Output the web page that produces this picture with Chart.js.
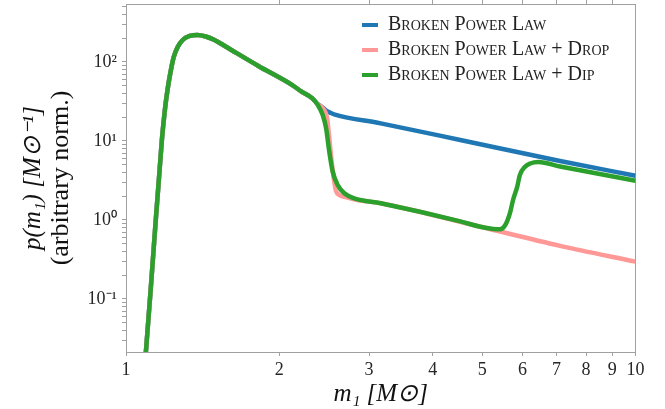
<!DOCTYPE html>
<html>
<head>
<meta charset="utf-8">
<script src="https://cdn.jsdelivr.net/npm/chart.js@4.4.1/dist/chart.umd.min.js"></script>
<style>
  html, body { margin: 0; padding: 0; background: #fff; }
</style>
</head>
<body>
<canvas id="myChart" width="665" height="409"></canvas>
<script>
// low-mass turn-on, shared by all three models
var massTurnOn = [1.084, 1.094, 1.119, 1.144, 1.160, 1.176, 1.192, 1.208, 1.225, 1.241, 1.263, 1.292, 1.334, 1.382, 1.433, 1.492, 1.568, 1.819, 2.120, 2.207, 2.319];
var densityTurnOn = [0.0100, 0.0213, 0.142, 1.00, 3.21, 10.3, 24.7, 46.9, 79.2, 115.7, 154.8, 189.8, 213.4, 219.7, 210.3, 189.8, 157.1, 89.0, 51.0, 42.5, 34.8];

// above the break
var massBpl = [2.378, 2.433, 2.470, 2.525, 2.571, 3.162, 4.530, 7.110, 10.0];
var densityBpl = [29.4, 26.6, 24.3, 22.6, 21.6, 16.7, 10.3, 5.58, 3.63];

var massDrop = [2.378, 2.433, 2.481, 2.506, 2.533, 2.563, 2.583, 2.622, 2.723, 2.848, 3.162, 4.960, 7.110, 10.0];
var densityDrop = [29.2, 26.0, 19.4, 10.8, 5.47, 3.05, 2.33, 2.07, 1.92, 1.79, 1.63, 0.82, 0.47, 0.297];

var massDip = [2.378, 2.433, 2.470, 2.506, 2.545, 2.603, 2.682, 2.805, 3.162, 4.530, 4.960, 5.260, 5.420, 5.550, 5.670, 5.750, 5.860, 5.930, 6.070, 6.210, 6.450, 7.110, 10.0];
var densityDip = [28.6, 21.3, 14.5, 7.32, 4.09, 2.77, 2.18, 1.88, 1.63, 0.96, 0.82, 0.77, 0.76, 0.86, 1.22, 1.79, 2.64, 3.71, 4.73, 5.19, 5.42, 4.76, 3.14];

var seriesNames = ["Broken Power Law", "Broken Power Law + Drop", "Broken Power Law + Dip"];
var seriesColors = ["#1f77b4", "#ff9896", "#2ca02c"];

var xTickValues = [1, 2, 3, 4, 5, 6, 7, 8, 9, 10];
var xTickLabels = ["1", "2", "3", "4", "5", "6", "7", "8", "9", "10"];
var yTickValues = [0.1, 1, 10, 100];
var yTickLabels = ["10\u207B\u00B9", "10\u2070", "10\u00B9", "10\u00B2"];

var frameColor = "#a0a0a0";
var serif = "'Liberation Serif', serif";

function points(xs, ys) {
  return xs.map(function (x, i) { return { x: x, y: ys[i] }; });
}

function findTick(values, v) {
  for (var i = 0; i < values.length; i++) {
    if (Math.abs(Math.log10(v) - Math.log10(values[i])) < 1e-6) return i;
  }
  return -1;
}

// matplotlib-like log ticks: only 1..9 times a power of ten
function isLogStep(v) {
  var m = v / Math.pow(10, Math.floor(Math.log10(v) + 1e-9));
  return Math.abs(m - Math.round(m)) < 1e-6;
}

function tickColorIn(lo, hi) {
  return function (c) {
    var v = c.tick ? c.tick.value : lo;
    return (v > lo && v < hi && isLogStep(v)) ? frameColor : "rgba(0,0,0,0)";
  };
}

function dataset(i, xs, ys, order) {
  return {
    label: seriesNames[i],
    data: points(massTurnOn.concat(xs), densityTurnOn.concat(ys)),
    borderColor: seriesColors[i],
    backgroundColor: seriesColors[i],
    borderWidth: 4.5,
    borderJoinStyle: "round",
    pointRadius: 0,
    cubicInterpolationMode: "monotone",
    clip: 0,
    order: order
  };
}

// put the legend inside the plot, upper right
var legendPlacer = {
  id: "legendPlacer",
  afterLayout: function (chart) {
    var lg = chart.legend;
    lg.left = 357;
    lg.top = 10;
    lg.right = lg.left + lg.width;
    lg.bottom = lg.top + lg.height;
  }
};

var ctx = document.getElementById("myChart").getContext("2d");
var chart = new Chart(ctx, {
  type: "line",
  data: {
    datasets: [
      dataset(0, massBpl, densityBpl, 2),
      dataset(1, massDrop, densityDrop, 1),
      dataset(2, massDip, densityDip, 0)
    ]
  },
  plugins: [legendPlacer],
  options: {
    responsive: false,
    animation: false,
    layout: { padding: { left: 0, right: 29.5, top: 0, bottom: 0 } },
    plugins: {
      tooltip: { enabled: false },
      legend: {
        position: "chartArea",
        align: "start",
        labels: {
          boxWidth: 16,
          boxHeight: 4,
          padding: 5,
          color: "#222",
          font: { family: serif, size: 20, weight: "small-caps" },
          sort: function (a, b) { return a.datasetIndex - b.datasetIndex; },
          generateLabels: function (c) {
            return Chart.defaults.plugins.legend.labels.generateLabels(c).map(function (l) {
              l.lineWidth = 0;
              return l;
            });
          }
        }
      }
    },
    scales: {
      x: {
        type: "logarithmic",
        position: "bottom",
        min: 1,
        max: 10,
        afterFit: function (s) { s.height = 57; },
        border: { display: true, color: frameColor, width: 1 },
        grid: { drawOnChartArea: false, drawTicks: true, tickLength: 4, tickColor: tickColorIn(0.99, 10.01) },
        ticks: {
          autoSkip: false,
          maxRotation: 0,
          padding: 3,
          color: "#262626",
          font: { family: serif, size: 18 },
          callback: function (v) {
            var i = findTick(xTickValues, v);
            return i >= 0 ? xTickLabels[i] : null;
          }
        },
        title: {
          display: true,
          text: "m\u2081 [M\u2299]",
          color: "#111",
          font: { family: serif, size: 25, style: "italic" },
          padding: { top: 0, bottom: 0 }
        }
      },
      x2: {
        type: "logarithmic",
        position: "top",
        min: 1,
        max: 10,
        afterFit: function (s) { s.height = 4; },
        border: { display: true, color: frameColor, width: 1 },
        grid: { drawOnChartArea: false, drawTicks: true, tickLength: 4, tickColor: tickColorIn(1.01, 9.99) },
        ticks: { display: false, autoSkip: false, callback: function () { return ""; } }
      },
      y: {
        type: "logarithmic",
        position: "left",
        min: 0.0213,
        max: 542,
        afterFit: function (s) {
          s.width = 80;
          s.paddingTop = 0;
          s.paddingBottom = 0;
        },
        border: { display: true, color: frameColor, width: 1 },
        grid: { drawOnChartArea: false, drawTicks: true, tickLength: 4, tickColor: tickColorIn(0.0214, 541) },
        ticks: {
          autoSkip: false,
          padding: 5,
          color: "#262626",
          font: { family: serif, size: 18 },
          callback: function (v) {
            if (v < 0.0214 || v > 541) return null;
            var i = findTick(yTickValues, v);
            return i >= 0 ? yTickLabels[i] : "";
          }
        },
        title: {
          display: true,
          text: "(arbitrary norm.)",
          color: "#111",
          font: { family: serif, size: 26 },
          padding: { top: 0, bottom: 0 }
        }
      },
      y2: {
        type: "linear",
        position: "left",
        afterFit: function (s) { s.width = 46; },
        border: { display: false },
        grid: { display: false },
        ticks: { display: false },
        title: {
          display: true,
          text: "p(m\u2081) [M\u2299\u207B\u00B9]",
          color: "#111",
          font: { family: serif, size: 25, style: "italic" },
          padding: { top: 18, bottom: 0 }
        }
      },
      y3: {
        type: "linear",
        position: "right",
        afterFit: function (s) { s.width = 0; },
        border: { display: true, color: frameColor, width: 1 },
        grid: { display: true, drawOnChartArea: false, drawTicks: false },
        ticks: { display: false }
      }
    }
  }
});
</script>
</body>
</html>
